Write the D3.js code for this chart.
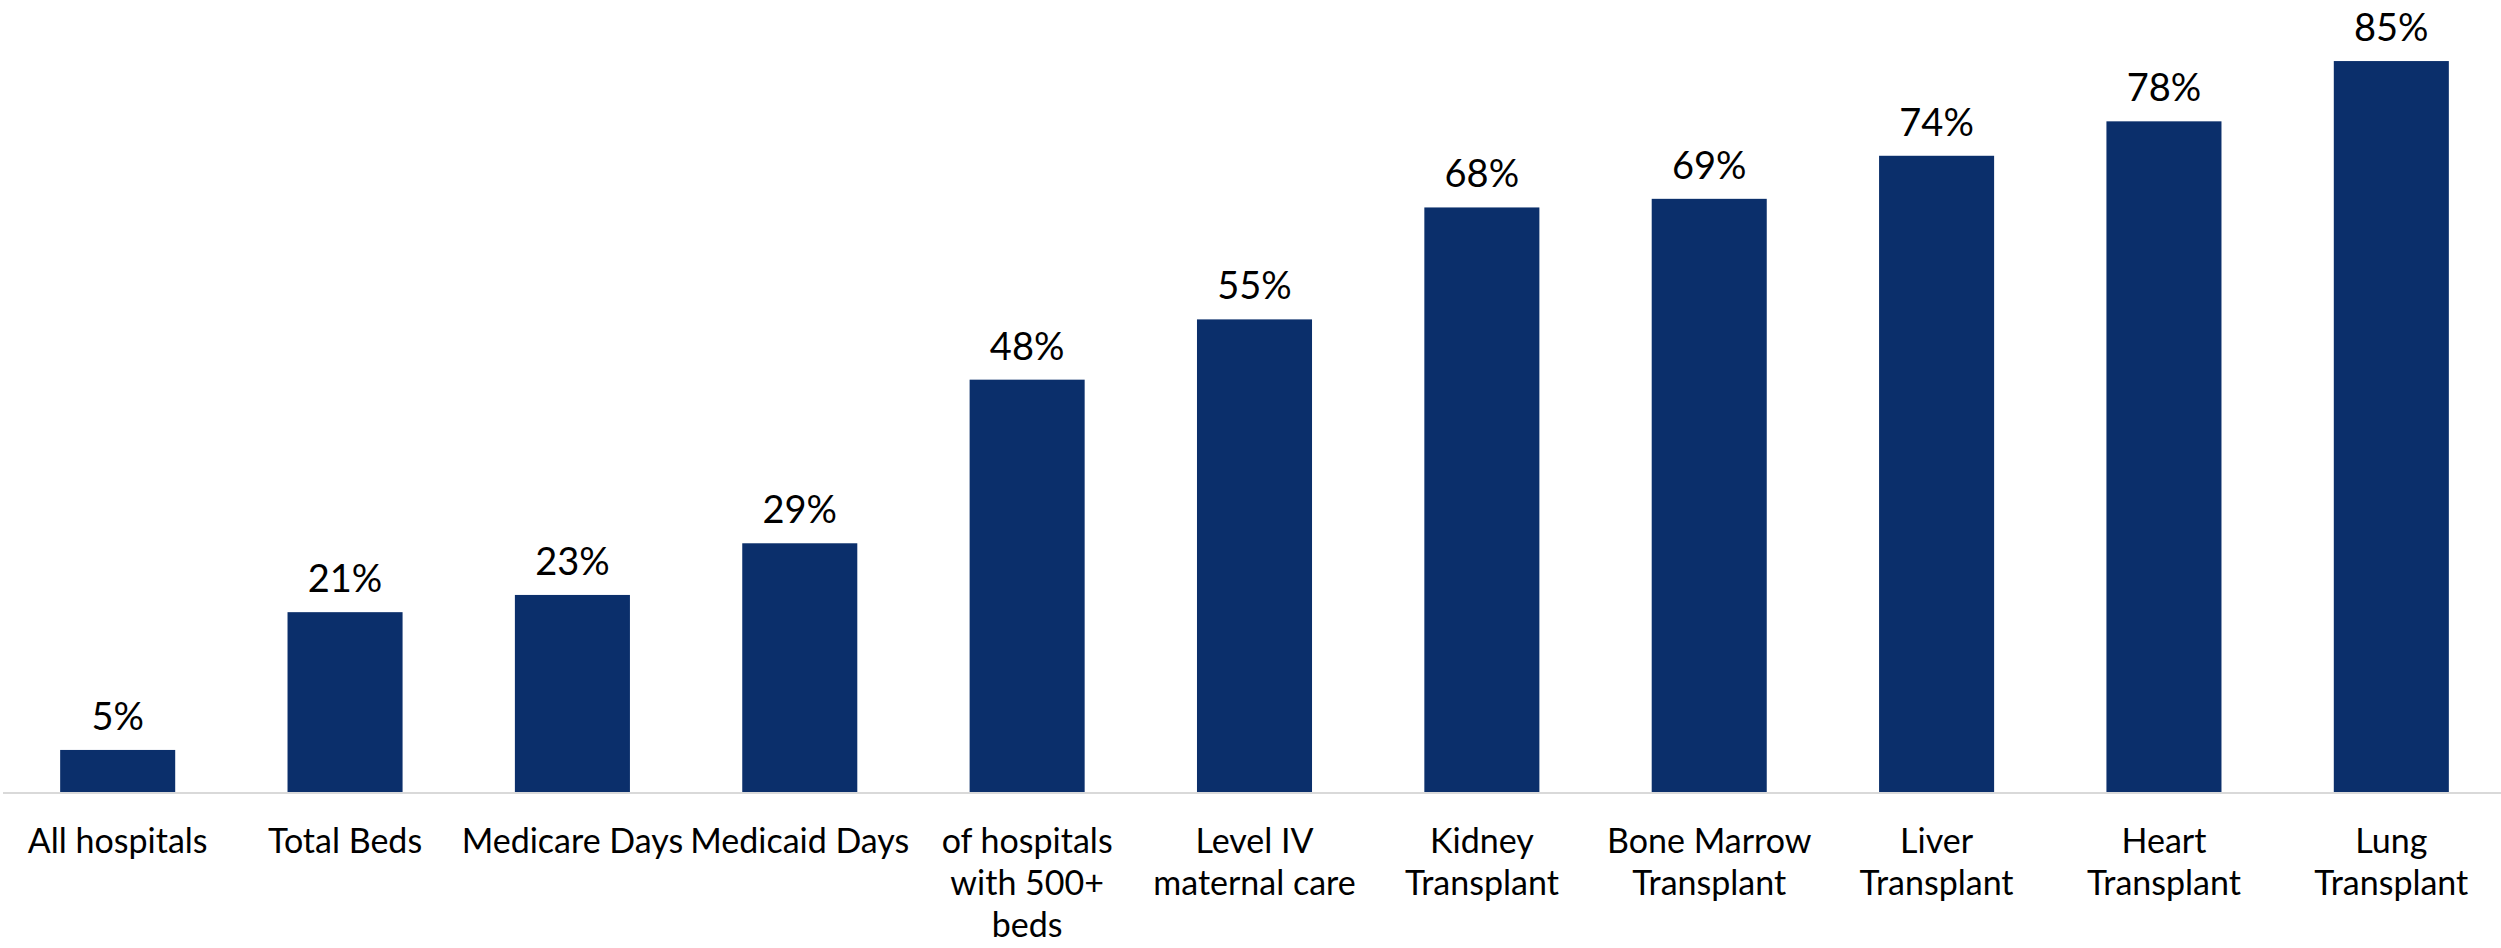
<!DOCTYPE html>
<html>
<head>
<meta charset="utf-8">
<script src="https://cdn.jsdelivr.net/npm/d3@7"></script>
<style>
  body { margin: 0; background: #fff; }
  svg text { font-family: "Lato", "Open Sans", sans-serif; fill: #000; }
</style>
</head>
<body>
<script>
var width = 2501;
var height = 948;

// data
var categories = ["All hospitals", "Total Beds", "Medicare Days", "Medicaid Days",
  "of hospitals\nwith 500+\nbeds", "Level IV\nmaternal care", "Kidney\nTransplant",
  "Bone Marrow\nTransplant", "Liver\nTransplant", "Heart\nTransplant", "Lung\nTransplant"];
var values = [5, 21, 23, 29, 48, 55, 68, 69, 74, 78, 85];
var yTicks = [0, 10, 20, 30, 40, 50, 60, 70, 80, 90];

var svg = d3.select("body").append("svg")
  .attr("width", width)
  .attr("height", height);

var baseY = 793;

var xScale = d3.scaleBand()
  .domain(categories)
  .range([4, 2505])
  .paddingInner(0.494)
  .paddingOuter(0.247);

var yScale = d3.scaleLinear().domain([0, 90]).range([baseY, 18]);

// bars
svg.selectAll("rect.bar")
  .data(values)
  .enter()
  .append("rect")
  .attr("class", "bar")
  .attr("x", function(d, i) { return xScale(categories[i]); })
  .attr("y", function(d) { return yScale(d); })
  .attr("width", xScale.bandwidth())
  .attr("height", function(d) { return baseY - yScale(d); })
  .attr("fill", "#0b2f6b");

// value labels
svg.selectAll("text.val")
  .data(values)
  .enter()
  .append("text")
  .attr("class", "val")
  .attr("x", function(d, i) { return xScale(categories[i]) + xScale.bandwidth() / 2; })
  .attr("y", function(d) { return yScale(d) - 20; })
  .attr("text-anchor", "middle")
  .style("font-size", "38px")
  .text(function(d) { return d + "%"; });

// x axis (no ticks, light line)
var xAxis = d3.axisBottom(xScale).tickSize(0).tickFormat("");
var xAxisGroup = svg.append("g")
  .attr("transform", "translate(0," + baseY + ")")
  .call(xAxis);
xAxisGroup.select(".domain")
  .attr("d", "M3,0H2501")
  .attr("stroke", "#d9d9d9")
  .attr("stroke-width", 2);

// category labels, wrapped like the original
xAxisGroup.selectAll(".tick").each(function(d) {
  var lines = d.split("\n");
  var t = d3.select(this).append("text")
    .attr("text-anchor", "middle")
    .attr("y", 60)
    .style("font-size", "34px");
  lines.forEach(function(l, k) {
    t.append("tspan").attr("x", 0).attr("dy", k == 0 ? 0 : 42).text(l);
  });
});
</script>
</body>
</html>
